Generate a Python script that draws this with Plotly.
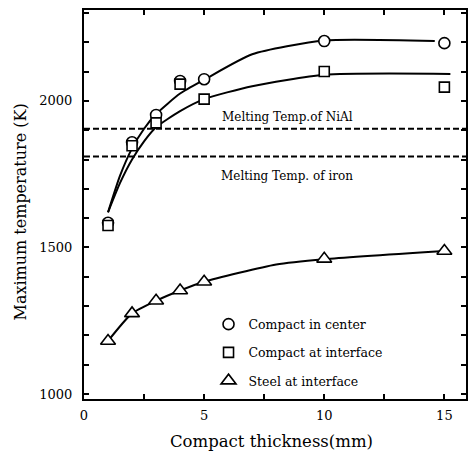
import plotly.graph_objects as go

# Measured maximum temperatures (K) vs compact thickness (mm)
thickness = [1, 2, 3, 4, 5, 10, 15]
temp_center = [1584, 1859, 1952, 2068, 2074, 2204, 2197]
temp_compact_interface = [1575, 1847, 1925, 2057, 2006, 2100, 2047]
temp_steel_interface = [1181, 1275, 1318, 1353, 1383, 1461, 1488]

# Hand-fitted trend curves
fit_center_x = [1, 1.5, 2, 2.5, 3, 4, 5, 7, 10, 14.6]
fit_center_y = [1620, 1745, 1838, 1905, 1955, 2025, 2072, 2159, 2206, 2204]
fit_interface_x = [1, 1.5, 2, 2.5, 3, 4, 5, 7, 10, 15.25]
fit_interface_y = [1620, 1720, 1800, 1862, 1910, 1965, 2006, 2050, 2089, 2092]
fit_steel_x = [1, 2, 3, 4, 5, 8, 10, 15]
fit_steel_y = [1181, 1275, 1318, 1353, 1383, 1442, 1460, 1488]

# Reference melting temperatures (K)
melt_nial = 1905
melt_iron = 1810
x_span = [0, 15.9]

FONT = "DejaVu Serif"

fig = go.Figure()

for fx, fy in [(fit_center_x, fit_center_y),
               (fit_interface_x, fit_interface_y),
               (fit_steel_x, fit_steel_y)]:
    fig.add_trace(go.Scatter(x=fx, y=fy, mode="lines",
                             line=dict(color="black", width=2, shape="spline", smoothing=0.6),
                             showlegend=False, hoverinfo="skip"))

for level in (melt_nial, melt_iron):
    fig.add_trace(go.Scatter(x=x_span, y=[level, level], mode="lines",
                             line=dict(color="black", width=2, dash="6px,3px"),
                             showlegend=False, hoverinfo="skip"))

series = [
    ("Compact in center", temp_center, "circle", 11),
    ("Compact at interface", temp_compact_interface, "square", 10),
    ("Steel at interface", temp_steel_interface, "triangle-up", 13),
]
for i, (name, vals, sym, sz) in enumerate(series):
    fig.add_trace(go.Scatter(
        x=thickness, y=vals, mode="markers", name=name, legendgroup=f"g{i}",
        marker=dict(symbol=sym, size=sz, color="white",
                    line=dict(color="black", width=1.6)),
    ))

fig.add_annotation(x=5.66, y=1945, text="Melting Temp.of NiAl", showarrow=False,
                   xanchor="left", yanchor="middle", font=dict(family=FONT, size=12, color="black"))
fig.add_annotation(x=5.62, y=1744, text="Melting Temp. of iron", showarrow=False,
                   xanchor="left", yanchor="middle", font=dict(family=FONT, size=12, color="black"))

# Axis titles
fig.add_annotation(xref="paper", yref="paper", x=0.49, y=-0.108,
                   text="Compact thickness(mm)", showarrow=False,
                   xanchor="center", yanchor="middle",
                   font=dict(family=FONT, size=16.5, color="black"))
fig.add_annotation(xref="paper", yref="paper", x=-0.167, y=0.48,
                   text="Maximum temperature (K)", showarrow=False, textangle=-90,
                   xanchor="center", yanchor="middle",
                   font=dict(family=FONT, size=16, color="black"))

axis_common = dict(showline=True, linecolor="black", linewidth=2, mirror="ticks",
                   ticks="inside", ticklen=5, tickwidth=1.5, tickcolor="black",
                   showgrid=False, zeroline=False,
                   tickfont=dict(family=FONT, size=13, color="black"))

fig.update_xaxes(range=x_span, tickvals=[0, 5, 10, 15], ticklabelstandoff=3,
                 minor=dict(dtick=2.5, ticks="inside", ticklen=5, tickwidth=1.5, tickcolor="black"),
                 **axis_common)
fig.update_yaxes(range=[983, 2310], tickvals=[1000, 1500, 2000], ticklabelstandoff=7,
                 minor=dict(dtick=100, ticks="inside", ticklen=5, tickwidth=1.5, tickcolor="black"),
                 **axis_common)

fig.update_layout(
    width=470, height=453,
    margin=dict(l=84, r=2, t=10, b=54),
    paper_bgcolor="white", plot_bgcolor="white",
    legend=dict(x=0.326, y=0.23, xanchor="left", yanchor="top",
                font=dict(family=FONT, size=12.5, color="black"),
                bgcolor="rgba(0,0,0,0)", tracegroupgap=9, itemwidth=30),
)

fig.write_html("out.html")
